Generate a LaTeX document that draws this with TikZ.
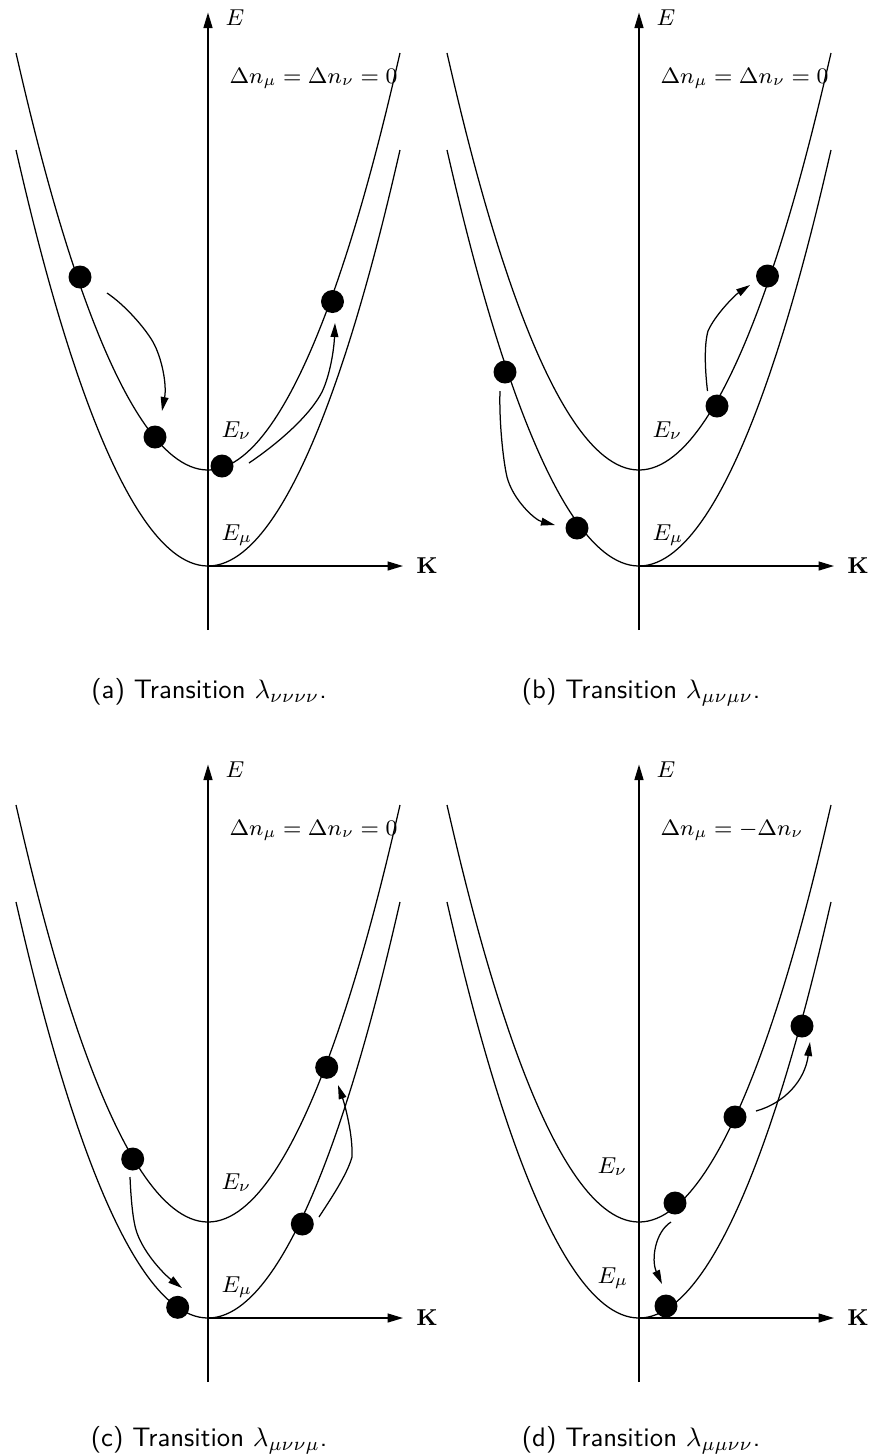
\RequirePackage{fix-cm}
\documentclass[tikz,border=0pt]{standalone}
\usetikzlibrary{arrows.meta}
\tikzset{
 ax/.style={line width=0.55pt,-{Triangle[length=6.2pt,width=3.6pt]}},
 curve/.style={line width=0.5pt},
 arr/.style={line width=0.5pt,-{Triangle[length=5.6pt,width=3.1pt]}},
 dot/.style={circle,fill=black,inner sep=0pt,minimum size=9.2pt},
 lbl/.style={inner sep=0pt,font=\fontsize{9.2}{11}\selectfont},
 dlbl/.style={inner sep=0pt,font=\fontsize{8.9}{11}\selectfont},
 captext/.style={inner sep=0pt,anchor=base,font=\fontsize{10.7}{13}\selectfont\sffamily},
}
\begin{document}
\begin{tikzpicture}[x=0.4pt,y=-0.4pt]
\fill[white] (0,0) rectangle (870,1456);
\path[use as bounding box] (0,0) rectangle (870,1456);

% ---------------- panel (a)
\coordinate (Oa) at (208,566);
\coordinate (Ba) at (208,630);
\coordinate (Ta) at (208,12.5);
\coordinate (Ra) at (403,566);
\draw[ax] (Ba) -- (Ta);
\draw[ax] (Oa) -- (Ra);
\node[lbl] (Ea) at (235,18) {$E$};
\node[lbl] (Ka) at (427,566) {$\mathbf{K}$};
\node[dlbl,anchor=base west] (Da) at (229,83) {$\Delta n_\mu=\Delta n_\nu=0$};
\draw[curve] (16,53) parabola bend (208,470) (400,53);
\draw[curve] (16,150) parabola bend (208,566) (400,150);
\node[lbl,anchor=base west] (Enua) at (221,437) {$E_\nu$};
\node[lbl,anchor=base west] (Emua) at (221,540) {$E_\mu$};
\node[dot] (a1) at (80,277) {};
\node[dot] (a2) at (155,437) {};
\node[dot] (a3) at (222,466) {};
\node[dot] (a4) at (332.5,301.5) {};
\coordinate (a1s) at (107,293);
\coordinate (a1k) at (153,342);
\coordinate (a1t) at (162,411);
\draw[arr] (a1s) .. controls (125,305) and (145,328) .. (a1k) .. controls (162,358) and (167,385) .. (a1t);
\coordinate (a2s) at (249,463);
\coordinate (a2k) at (322,392);
\coordinate (a2t) at (335,323);
\draw[arr] (a2s) .. controls (280,442) and (310,415) .. (a2k) .. controls (330,375) and (334,350) .. (a2t);
\node[captext] (capa) at (209,698) {(a) Transition $\lambda_{\nu\nu\nu\nu}$.};

% ---------------- panel (b)
\coordinate (Ob) at (639,566);
\coordinate (Bb) at (639,630);
\coordinate (Tb) at (639,12.5);
\coordinate (Rb) at (834,566);
\draw[ax] (Bb) -- (Tb);
\draw[ax] (Ob) -- (Rb);
\node[lbl] (Eb) at (666,18) {$E$};
\node[lbl] (Kb) at (858,566) {$\mathbf{K}$};
\node[dlbl,anchor=base west] (Db) at (660,83) {$\Delta n_\mu=\Delta n_\nu=0$};
\draw[curve] (447,53) parabola bend (639,470) (831,53);
\draw[curve] (447,150) parabola bend (639,566) (831,150);
\node[lbl,anchor=base west] (Enub) at (652,437) {$E_\nu$};
\node[lbl,anchor=base west] (Emub) at (652,540) {$E_\mu$};
\node[dot] (b1) at (505,372) {};
\node[dot] (b2) at (577,528) {};
\node[dot] (b3) at (717,406) {};
\node[dot] (b4) at (767.5,276) {};
\coordinate (b1s) at (500,391);
\coordinate (b1k) at (507,477);
\coordinate (b1t) at (555,525);
\draw[arr] (b1s) .. controls (499,420) and (503,460) .. (b1k) .. controls (513,500) and (535,520) .. (b1t);
\coordinate (b2s) at (707.5,391);
\coordinate (b2k) at (708,331);
\coordinate (b2t) at (750,285);
\draw[arr] (b2s) .. controls (705,370) and (704,345) .. (b2k) .. controls (715,315) and (735,295) .. (b2t);
\node[captext] (capb) at (641,698) {(b) Transition $\lambda_{\mu\nu\mu\nu}$.};

% ---------------- panel (c)
\coordinate (Oc) at (208,1318);
\coordinate (Bc) at (208,1382);
\coordinate (Tc) at (208,764.5);
\coordinate (Rc) at (403,1318);
\draw[ax] (Bc) -- (Tc);
\draw[ax] (Oc) -- (Rc);
\node[lbl] (Ec) at (235,770) {$E$};
\node[lbl] (Kc) at (427,1318) {$\mathbf{K}$};
\node[dlbl,anchor=base west] (Dc) at (229,835) {$\Delta n_\mu=\Delta n_\nu=0$};
\draw[curve] (16,805) parabola bend (208,1222) (400,805);
\draw[curve] (16,902) parabola bend (208,1318) (400,902);
\node[lbl,anchor=base west] (Enuc) at (221,1189) {$E_\nu$};
\node[lbl,anchor=base west] (Emuc) at (221,1292) {$E_\mu$};
\node[dot] (c1) at (132.7,1159) {};
\node[dot] (c2) at (177.7,1307.3) {};
\node[dot] (c3) at (302.3,1224) {};
\node[dot] (c4) at (326.7,1067.3) {};
\coordinate (c1s) at (130,1177);
\coordinate (c1k) at (137,1233);
\coordinate (c1t) at (182,1288);
\draw[arr] (c1s) .. controls (131,1200) and (133,1222) .. (c1k) .. controls (145,1255) and (165,1275) .. (c1t);
\coordinate (c2s) at (319,1217);
\coordinate (c2k) at (352,1157);
\coordinate (c2t) at (338,1085);
\draw[arr] (c2s) .. controls (330,1200) and (347,1175) .. (c2k) .. controls (353,1135) and (345,1105) .. (c2t);
\node[captext] (capc) at (209,1446) {(c) Transition $\lambda_{\mu\nu\nu\mu}$.};

% ---------------- panel (d)
\coordinate (Od) at (639,1318);
\coordinate (Bd) at (639,1382);
\coordinate (Td) at (639,764.5);
\coordinate (Rd) at (834,1318);
\draw[ax] (Bd) -- (Td);
\draw[ax] (Od) -- (Rd);
\node[lbl] (Ed) at (666,770) {$E$};
\node[lbl] (Kd) at (858,1318) {$\mathbf{K}$};
\node[dlbl,anchor=base west] (Dd) at (660,835) {$\Delta n_\mu=-\Delta n_\nu$};
\draw[curve] (447,805) parabola bend (639,1222) (831,805);
\draw[curve] (447,902) parabola bend (639,1318) (831,902);
\node[lbl,anchor=base west] (Enud) at (597,1173) {$E_\nu$};
\node[lbl,anchor=base west] (Emud) at (597,1283) {$E_\mu$};
\node[dot] (d1) at (666,1306) {};
\node[dot] (d2) at (675,1203) {};
\node[dot] (d3) at (735,1117) {};
\node[dot] (d4) at (802,1026) {};
\coordinate (d1s) at (671,1222);
\coordinate (d1t) at (662,1284);
\draw[arr] (d1s) .. controls (655,1232) and (651,1260) .. (d1t);
\coordinate (d2s) at (756,1111);
\coordinate (d2t) at (810,1042);
\draw[arr] (d2s) .. controls (785,1103) and (805,1080) .. (d2t);
\node[captext] (capd) at (641,1446) {(d) Transition $\lambda_{\mu\mu\nu\nu}$.};
\end{tikzpicture}
\end{document}
